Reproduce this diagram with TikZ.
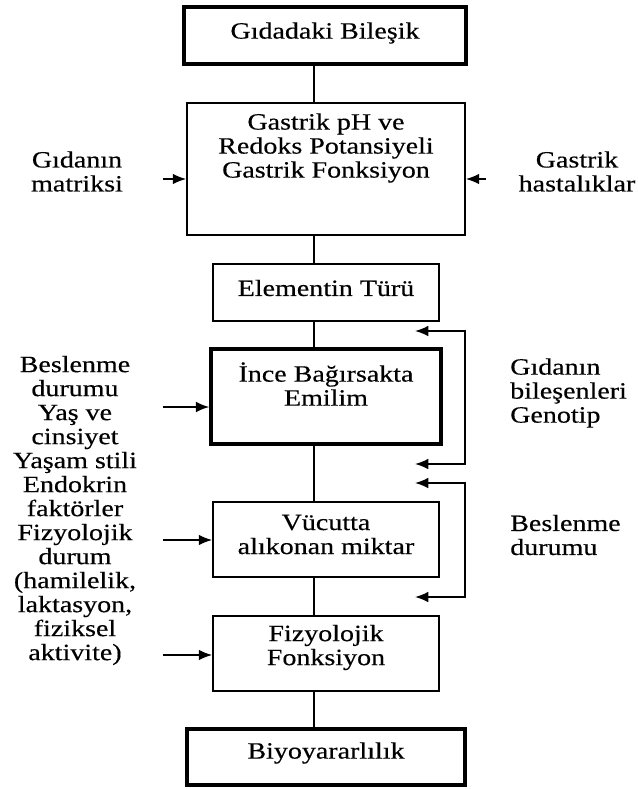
\documentclass[tikz,border=0pt]{standalone}
\usepackage{fontspec}
\setmainfont{Liberation Serif}[FakeStretch=1.2,FakeBold=0.4]
\usetikzlibrary{arrows.meta}
\begin{document}
\begin{tikzpicture}[x=0.75pt,y=-0.75pt,
  every node/.style={font=\fontsize{17.5}{18}\selectfont},
  box/.style={draw,line width=1.3pt,inner sep=0pt},
  tbox/.style={draw,line width=2.6pt,inner sep=0pt},
  txt/.style={align=center,inner sep=0pt},
  ltxt/.style={align=left,inner sep=0pt,anchor=west},
  conn/.style={line width=1.3pt},
  arr/.style={line width=1.2pt,-{Latex[length=10pt,width=8pt]}},
  darr/.style={line width=1.2pt,{Latex[length=10pt,width=8pt]}-{Latex[length=10pt,width=8pt]}}]
\useasboundingbox (0,0) rectangle (638,789);
% boxes
\node[tbox,minimum width=211.5pt,minimum height=42.75pt] (b1) at (325,35.5) {};
\node[box,minimum width=208.5pt,minimum height=99pt] (b2) at (326,169) {};
\node[box,minimum width=169.5pt,minimum height=42.75pt] (b3) at (326,292.5) {};
\node[tbox,minimum width=172.5pt,minimum height=71.25pt] (b4) at (326,396.5) {};
\node[box,minimum width=169.5pt,minimum height=56.25pt] (b5) at (326,539.5) {};
\node[box,minimum width=169.5pt,minimum height=56.25pt] (b6) at (326,653.5) {};
\node[tbox,minimum width=208.5pt,minimum height=42pt] (b7) at (326,757) {};
% box texts
\node[txt] (t1) at (325,33) {Gıdadaki Bileşik};
\node[txt] (t2) at (326,148) {Gastrik pH ve\\Redoks Potansiyeli\\Gastrik Fonksiyon};
\node[txt] (t3) at (326,288) {Elementin Türü};
\node[txt] (t4) at (326,384) {İnce Bağırsakta\\Emilim};
\node[txt] (t5) at (326,534.5) {Vücutta\\alıkonan miktar};
\node[txt] (t6) at (326,647.5) {Fizyolojik\\Fonksiyon};
\node[txt] (t7) at (326,753) {Biyoyararlılık};
% side texts
\node[txt] (l1) at (77,171.5) {Gıdanın\\matriksi};
\node[txt] (r1) at (577,171.5) {Gastrik\\hastalıklar};
\node[txt] (l2) at (75,510.5) {Beslenme\\durumu\\Yaş ve\\cinsiyet\\Yaşam stili\\Endokrin\\faktörler\\Fizyolojik\\durum\\(hamilelik,\\laktasyon,\\fiziksel\\aktivite)};
\node[ltxt] (r2) at (510,393) {Gıdanın\\bileşenleri\\Genotip};
\node[ltxt] (r3) at (510,535) {Beslenme\\durumu};
% spine
\coordinate (sp) at (314,0);
\draw[conn] (b1.south -| sp) -- (b2.north -| sp);
\draw[conn] (b2.south -| sp) -- (b3.north -| sp);
\draw[conn] (b3.south -| sp) -- (b4.north -| sp);
\draw[conn] (b4.south -| sp) -- (b5.north -| sp);
\draw[conn] (b5.south -| sp) -- (b6.north -| sp);
\draw[conn] (b6.south -| sp) -- (b7.north -| sp);
% side arrows
\coordinate (la0) at (163,179);
\coordinate (ra0) at (486,179);
\draw[arr] (la0) -- (la0 -| b2.west);
\draw[arr] (ra0) -- (ra0 -| b2.east);
\coordinate (la1) at (163,407);
\coordinate (la2) at (163,540);
\coordinate (la3) at (163,655);
\draw[arr] (la1) -- (la1 -| b4.west);
\draw[arr] (la2) -- (la2 -| b5.west);
\draw[arr] (la3) -- (la3 -| b6.west);
% feedback arrows
\coordinate (rx) at (465,0);
\coordinate (fa1) at (415,331);
\coordinate (fa2) at (415,464);
\coordinate (fb1) at (415,483);
\coordinate (fb2) at (415,597);
\draw[darr] (fa1) -- (fa1 -| rx) -- (fa2 -| rx) -- (fa2);
\draw[darr] (fb1) -- (fb1 -| rx) -- (fb2 -| rx) -- (fb2);
\end{tikzpicture}
\end{document}
